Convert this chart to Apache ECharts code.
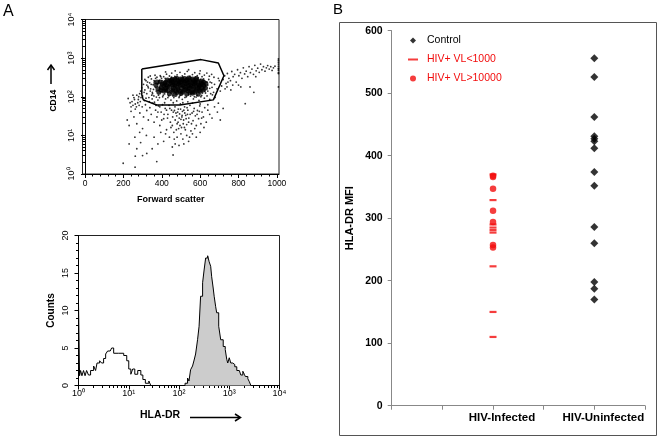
<!DOCTYPE html>
<html><head><meta charset="utf-8">
<script src="https://cdn.jsdelivr.net/npm/echarts@6/dist/echarts.min.js"></script>
<style>html,body{margin:0;padding:0;background:#fff}#c{width:661px;height:439px}</style>
</head><body><div id="c"></div>
<script>
// ---------- Panel A (top): Forward scatter vs CD14 events [FSC, CD14] ----------
const denseEvents = [
[455,285],[478,300],[497,288],[519,296],[540,305],[561,290],[580,298],
[420,240],[441,255],[462,248],[484,262],[503,245],[526,258],[546,250],[566,262],[588,244],[607,255],
[402,215],[424,205],[445,220],[466,208],[487,214],[508,202],[529,218],[550,206],[571,215],[592,203],[612,212],[630,220],
[398,172],[419,165],[440,178],[461,168],[482,175],[503,166],[524,180],[545,170],[566,176],[587,164],[608,172],[628,168],
[410,140],[432,146],[453,136],[474,144],[495,138],[516,148],[537,141],[558,135],[579,145],[600,138],
[440,120],[470,115],[500,122],[530,118],[560,124],[590,116],
[492,230],[535,232],[515,190],[555,190],[575,232],[470,190],[450,232],[595,185],[430,190],[485,155],[525,155],[565,155],
[505,275],[545,275],[605,230],[415,225],[370,200],[380,160],[375,240],[385,130],
[430,270],[452,262],[473,228],[496,198],[518,235],[538,196],[560,228],[582,270],[600,196],[618,240],[458,150],[478,128],
[508,130],[548,128],[572,130],[594,150],[616,150],[410,190],[392,240],[396,150],[420,150],[468,280],[532,280],[570,245],
[512,260],[488,245],[456,200],[540,160],[580,190],[620,195]];
const gateEvents = [
[305,210],[312,150],[318,260],[322,120],[328,185],[333,95],[337,230],[342,160],[346,290],[351,130],[355,205],[359,105],
[363,250],[367,175],[371,140],[375,320],[379,215],[383,110],[387,265],[391,190],[395,135],[399,300],[340,345],[365,360],
[318,92],[350,88],[380,82],[308,130],[326,240],[357,155],[385,240],[372,98],[300,105],[296,170],[290,140],[285,120],
[280,100],[310,80],[335,75],[362,72],
[392,350],[410,330],[425,385],[440,345],[452,410],[468,335],[480,370],[495,430],[507,345],[520,390],[533,455],[547,340],
[560,375],[572,420],[585,350],[597,395],[610,330],[622,365],[635,410],[648,340],[660,380],[672,320],[450,320],[510,320],
[575,325],[540,500],[600,470],[470,470],[420,440],
[405,100],[420,88],[436,105],[448,82],[463,95],[478,78],[492,102],[507,86],[521,96],[536,74],[550,104],[565,88],
[579,98],[594,80],[608,108],[622,92],[636,105],[650,85],[664,112],[678,96],[415,118],[455,112],[498,110],[540,112],
[585,108],[628,125],
[615,150],[628,195],[640,140],[652,240],[662,175],[675,210],[688,160],[700,260],[712,190],[645,280],[670,130],[695,300],
[705,140],[620,260],[655,120],
[330,170],[345,210],[360,260],[352,120],[368,300],[388,95],[395,330],[402,260],[408,110],[418,300],[432,95],[446,290],
[458,105],[476,310],[490,95],[512,312],[528,100],[552,315],[570,100],[590,310],[604,100],[618,290],[625,140],[640,200],
[650,165],[660,230],[612,125],[390,170],[396,210],[620,175],[635,240],[600,280],[440,280],[430,130],[360,230],[340,140],
[322,200],[312,280],[330,320],[348,110]];
const lowEvents = [
[250,60],[262,48],[275,70],[286,38],[298,55],[305,30],[315,62],[322,44],[330,25],[338,52],[345,35],[352,68],[360,22],
[368,45],[375,30],[383,58],[390,18],[397,40],[404,62],[410,27],[418,50],[425,14],[432,35],[438,60],[445,22],[451,45],
[457,30],[463,12],[469,55],[474,38],[480,20],[486,48],[491,28],[497,65],[503,16],[508,42],[514,25],[519,55],[525,33],
[530,19],[536,45],[541,28],[547,60],[552,13],[558,38],[563,24],[569,50],[575,32],[580,18],[586,44],[592,27],[598,58],
[604,20],[610,40],[617,30],[624,52],[632,22],[640,45],[650,35],[662,28],[675,55],[690,40],[705,25],[720,50],
[470,25],[478,32],[485,22],[493,36],[500,26],[506,33],[512,20],[520,38],[527,27],[534,35],[460,40],[495,18],[515,45],
[540,22],[455,18],[488,15],[523,14],[500,11],[480,9],[510,8],[530,10],[465,8],[545,9],[560,11],[440,9],[420,11],
[395,12],[600,12],[580,9],[470,6],[490,5.5],[515,6],[540,7],[455,5],
[199,1.9],[261,1.5],[262,2.9],[270,4.5],[300,3],[322,3.4],[374,2.1],[459,3.1],[230,6],[290,6.5],[350,4.5],[380,6],
[260,9],[285,12],[230,18],[220,25],[255,30],[240,42],[270,20],[300,15],[320,10],[410,7],[360,9],
[245,75],[255,95],[262,65],[270,110],[278,85],[288,75],[292,95],[268,55],[282,60],[258,85],[235,70],[225,90],[250,110],[240,55],
[430,28],[442,50],[448,16],[466,44],[476,14],[483,40],[498,48],[505,30],[518,16],[532,52],[548,35],[555,20],[566,42],
[572,15],[584,35],[596,42],[608,28],[620,16],[380,40],[400,25],[412,35],[425,45],[390,55],[370,60],[415,70],[460,70],
[510,70],[560,68],[600,65],[640,62]];
const tailEvents = [
[720,280],[728,350],[735,220],[742,400],[750,300],[758,260],[765,450],[772,330],[780,380],[788,240],[795,500],[802,350],
[810,420],[818,300],[825,560],[832,390],[840,460],[848,330],[855,600],[862,420],[870,520],[878,380],[885,650],[892,470],
[900,550],[908,430],[915,700],[922,500],[930,600],[938,460],[945,560],[952,640],[960,520],[968,600],[975,480],[982,560],
[990,620],[740,180],[770,200],[800,200],[835,66],[860,180],[890,330],[760,150],[730,160],[745,240],[812,180],[880,130],[695,68]];
const edgeEvents = [[1008,420],[1008,480],[1008,550],[1008,620],[1008,700],[1008,780],[1008,860],[1008,950],[1008,520],[1008,400],[1008,180]];
const gateVertices = [[296,525],[605,915],[695,750],[724,351],[669,83],[495,61],[374,61],[304,83],[296,112],[296,525]];
const fscTicks = [0,200,400,600,800,1000];
const decadeLabels = ['10\u2070','10\u00b9','10\u00b2','10\u00b3','10\u2074'];

// ---------- Panel A (bottom): HLA-DR histograms ----------
const isotypeHLADR = [1,1,1.05,1.10,1.17,1.26,1.35,1.45,1.58,1.74,2.0,2.19,2.34,2.63,2.88,3.16,3.47,3.80,4.27,4.57,5.01,6.31,7.94,9.12,10,11.0,12.0,13.2,15.1,17.4,19.1,21.4,25.1,27.5];
const isotypeCounts = [0,11,1.3,2.0,1.3,2.0,1.3,2.0,1.4,2.0,2.6,2.0,3.0,3.3,3.0,3.6,4.2,4.6,4.4,5.0,4.3,4.3,4.0,3.3,2.2,1.5,2.2,1.5,2.0,1.4,0.8,0.3,0.6,0];
const stainedHLADR = [132,132,148,158,170,186,200,214,234,251,269,295,316,339,372,398,427,447,479,501,537,562,617,676,759,832,891,933,1000,1072,1175,1288,1413,1585,1698,1862,1995,2089,2344,2512,2692];
const stainedCounts = [0,0.3,1.0,0.6,2.1,2.6,3.4,4.2,6.1,7.9,11.9,13.7,15.4,17.0,17.3,16.5,15.9,14.5,13.0,11.9,10.5,9.7,7.9,6.1,5.2,4.8,3.5,3.0,3.7,3.0,2.8,2.5,2.0,1.9,1.4,1.9,1.5,1.2,0.9,0.5,0];

// ---------- Panel B: HLA-DR MFI ----------
const groups = ['HIV-Infected','HIV-Uninfected'];
const controlMFI = [556,526,462,431,427,423,412,374,352,286,260,198,187,170];
const vlLowMFI = [370,329,290,285,281,277,223,150,110];
const vlHighMFI = [368,366,347,312,294,257,253];

// ---------- build ----------
const L = Math.log10;
const logMinor = [];
for (let d = 0; d < 4; d++) for (let k = 2; k <= 9; k++) logMinor.push(L(k * Math.pow(10, d)));
const fscMinor = [];
for (let v = 0; v <= 1000; v += 40) fscMinor.push(v);
const ev = a => a.map(p => [p[0], L(p[1])]);
const groupPos = i => 2 * (i + 1);
const FONT = '"Liberation Sans", Arial, sans-serif';
const RED = '#f20d0d';

const chart = echarts.init(document.getElementById('c'), null, {renderer: 'canvas'});
chart.setOption({
  animation: false,
  textStyle: {fontFamily: FONT, color: '#000'},
  grid: [
    {left: 82.5, top: 19.5, width: 196.5, height: 154.5, show: true, borderColor: '#222', borderWidth: 1},
    {left: 78.5, top: 235.5, width: 201, height: 150, show: true, borderColor: '#222', borderWidth: 1},
    {left: 391.7, top: 30.7, width: 253.3, height: 375}
  ],
  xAxis: [
    {gridIndex: 0, type: 'value', min: -13, max: 1011, position: 'bottom',
     axisLine: {lineStyle: {color: '#000'}}, splitLine: {show: false},
     axisTick: {customValues: fscTicks, length: 4, lineStyle: {color: '#000'}},
     axisLabel: {customValues: fscTicks, formatter: v => String(v), fontSize: 8.5, margin: 5, color: '#000'},
     name: 'Forward scatter', nameLocation: 'middle', nameGap: 21,
     nameTextStyle: {fontWeight: 'bold', fontSize: 9, padding: [0, 20, 0, 0]}},
    {gridIndex: 0, type: 'value', min: -13, max: 1011, position: 'bottom',
     axisLine: {show: false}, splitLine: {show: false}, axisLabel: {show: false},
     axisTick: {customValues: fscMinor, length: 2.5, lineStyle: {color: '#000'}}},
    {gridIndex: 1, type: 'value', min: 0, max: 4, interval: 1, position: 'bottom',
     axisLine: {lineStyle: {color: '#000'}}, splitLine: {show: false},
     axisTick: {length: 4, lineStyle: {color: '#000'}},
     axisLabel: {formatter: v => decadeLabels[v], fontSize: 9, margin: 4, color: '#000'},
     name: 'HLA-DR', nameLocation: 'middle', nameGap: 24,
     nameTextStyle: {fontWeight: 'bold', fontSize: 10.5, padding: [0, 38, 0, 0]}},
    {gridIndex: 1, type: 'value', min: 0, max: 4, position: 'bottom',
     axisLine: {show: false}, splitLine: {show: false}, axisLabel: {show: false},
     axisTick: {customValues: logMinor, length: 2.5, lineStyle: {color: '#000'}}},
    {gridIndex: 2, type: 'value', min: 0, max: 5, interval: 1,
     axisLine: {lineStyle: {color: '#888'}}, splitLine: {show: false},
     axisTick: {length: 4, lineStyle: {color: '#888'}},
     axisLabel: {formatter: v => v === groupPos(0) ? groups[0] : (v === groupPos(1) ? groups[1] : ''),
                 fontWeight: 'bold', fontSize: 11.5, margin: 6, color: '#000', padding: [0, 0, 0, 18]}}
  ],
  yAxis: [
    {gridIndex: 0, type: 'value', min: 0, max: 4, interval: 1, position: 'left',
     axisLine: {lineStyle: {color: '#000'}}, splitLine: {show: false},
     axisTick: {length: 4, lineStyle: {color: '#000'}},
     axisLabel: {formatter: v => decadeLabels[v], rotate: 90, fontSize: 9, margin: 6, color: '#000'},
     name: 'CD14', nameLocation: 'middle', nameRotate: 90, nameGap: 24,
     nameTextStyle: {fontWeight: 'bold', fontSize: 8.5, padding: [0, 0, 0, -8]}},
    {gridIndex: 0, type: 'value', min: 0, max: 4, position: 'left',
     axisLine: {show: false}, splitLine: {show: false}, axisLabel: {show: false},
     axisTick: {customValues: logMinor, length: 2.5, lineStyle: {color: '#000'}}},
    {gridIndex: 1, type: 'value', min: 0, max: 20, interval: 5, position: 'left',
     axisLine: {lineStyle: {color: '#000'}}, splitLine: {show: false},
     axisTick: {length: 4, lineStyle: {color: '#000'}},
     minorTick: {show: true, splitNumber: 5, length: 2.5, lineStyle: {color: '#000'}},
     axisLabel: {rotate: 90, fontSize: 9, margin: 8, color: '#000'},
     name: 'Counts', nameLocation: 'middle', nameRotate: 90, nameGap: 22,
     nameTextStyle: {fontWeight: 'bold', fontSize: 10}},
    {gridIndex: 2, type: 'value', min: 0, max: 600, interval: 100,
     axisLine: {show: true, lineStyle: {color: '#888'}}, splitLine: {show: false},
     axisTick: {show: true, length: 4, lineStyle: {color: '#888'}},
     axisLabel: {fontWeight: 'bold', fontSize: 10.5, margin: 9, color: '#000'},
     name: 'HLA-DR MFI', nameLocation: 'middle', nameRotate: 90, nameGap: 36,
     nameTextStyle: {fontWeight: 'bold', fontSize: 11}}
  ],
  legend: {
    orient: 'vertical', left: 403, top: 30, itemWidth: 10, itemHeight: 6, itemGap: 8,
    selectedMode: false, textStyle: {fontSize: 10.5, fontFamily: FONT, padding: [0, 0, 0, 4]},
    data: [
      {name: 'Control', icon: 'path://M5 0L10 5L5 10L0 5Z', textStyle: {color: '#000'}},
      {name: 'HIV+ VL<1000', icon: 'path://M0 0H10V2H0Z', textStyle: {color: RED}},
      {name: 'HIV+ VL>10000', icon: 'circle', textStyle: {color: RED}}
    ]
  },
  series: [
    {type: 'scatter', name: 'dense', xAxisIndex: 0, yAxisIndex: 0, symbol: 'circle', symbolSize: 5,
     itemStyle: {color: '#000'}, data: ev(denseEvents), silent: true},
    {type: 'scatter', name: 'events', xAxisIndex: 0, yAxisIndex: 0, symbol: 'circle', symbolSize: 1.8,
     itemStyle: {color: '#000'}, data: ev(gateEvents.concat(lowEvents, tailEvents, edgeEvents)), silent: true},
    {type: 'line', name: 'gate', xAxisIndex: 0, yAxisIndex: 0, symbol: 'none',
     lineStyle: {color: '#000', width: 1.5}, data: ev(gateVertices), silent: true},
    {type: 'line', name: 'stained', xAxisIndex: 2, yAxisIndex: 2, symbol: 'none', step: 'end',
     lineStyle: {color: '#000', width: 1}, areaStyle: {color: '#cccccc', opacity: 1},
     data: stainedHLADR.map((v, i) => [L(v), stainedCounts[i]]), silent: true},
    {type: 'line', name: 'isotype', xAxisIndex: 2, yAxisIndex: 2, symbol: 'none', step: 'end',
     lineStyle: {color: '#000', width: 1},
     data: isotypeHLADR.map((v, i) => [L(v), isotypeCounts[i]]), silent: true},
    {type: 'scatter', name: 'Control', xAxisIndex: 4, yAxisIndex: 3, symbol: 'diamond', symbolSize: 8,
     itemStyle: {color: '#000'}, data: controlMFI.map(v => [groupPos(1), v])},
    {type: 'scatter', name: 'HIV+ VL<1000', xAxisIndex: 4, yAxisIndex: 3, symbol: 'rect', symbolSize: [7, 2.2],
     itemStyle: {color: RED}, data: vlLowMFI.map(v => [groupPos(0), v])},
    {type: 'scatter', name: 'HIV+ VL>10000', xAxisIndex: 4, yAxisIndex: 3, symbol: 'circle', symbolSize: 6.5,
     itemStyle: {color: RED}, data: vlHighMFI.map(v => [groupPos(0), v])}
  ],
  graphic: [
    {type: 'text', left: 3, top: 4, style: {text: 'A', fontSize: 16, fontFamily: FONT, fill: '#000'}},
    {type: 'text', left: 333, top: 2, style: {text: 'B', fontSize: 15, fontFamily: FONT, fill: '#000'}},
    {type: 'rect', shape: {x: 339.5, y: 22.5, width: 317, height: 413}, style: {fill: 'none', stroke: '#555', lineWidth: 1}},
    {type: 'polyline', shape: {points: [[51, 84], [51, 65.5]]}, style: {stroke: '#000', lineWidth: 1.5}},
    {type: 'polyline', shape: {points: [[47.5, 70], [51, 65], [54.5, 70]]}, style: {stroke: '#000', lineWidth: 1.5, fill: 'none'}},
    {type: 'polyline', shape: {points: [[190, 417.5], [240, 417.5]]}, style: {stroke: '#000', lineWidth: 1.5}},
    {type: 'polyline', shape: {points: [[235, 414], [240.5, 417.5], [235, 421]]}, style: {stroke: '#000', lineWidth: 1.5, fill: 'none'}}
  ]
});
</script></body></html>
